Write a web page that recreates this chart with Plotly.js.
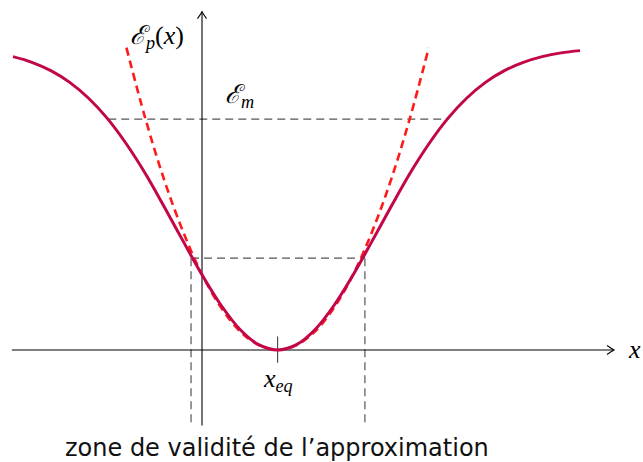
<!DOCTYPE html>
<html>
<head>
<meta charset="utf-8">
<script src="https://cdn.plot.ly/plotly-3.0.1.min.js"></script>
<style>
  html, body { margin: 0; padding: 0; background: #fff; }
  #plot { width: 643px; height: 462px; }
</style>
</head>
<body>
<div id="plot"></div>
<script>
// Potential energy curve E_p(x) (solid) and its harmonic approximation (dashed)
const curveX = [-5, -4.5, -4, -3.5, -3, -2.5, -2, -1.5, -1, -0.5, 0, 0.5, 1, 1.5, 2,
                2.5, 3, 3.5, 4, 4.5, 5, 5.5, 6, 6.5, 7, 7.5, 8, 8.5, 9, 9.5, 10];
const curveY = [7.76, 7.61, 7.39, 7.08, 6.66, 6.12, 5.45, 4.67, 3.79, 2.88, 1.99, 1.19, 0.55, 0.14, 0,
                0.14, 0.55, 1.19, 1.99, 2.88, 3.79, 4.67, 5.45, 6.12, 6.66, 7.08, 7.39, 7.61, 7.76, 7.86, 7.92];

const parabX = [-2, -1.5, -1, -0.5, 0, 0.5, 1, 1.5, 2, 2.5, 3, 3.5, 4, 4.5, 5, 5.5, 6];
const parabY = [8, 6.13, 4.5, 3.13, 2, 1.13, 0.5, 0.13, 0, 0.13, 0.5, 1.13, 2, 3.13, 4.5, 6.13, 8];

// Reference levels
const xEq = 2;            // equilibrium position
const eM = 6.11;          // mechanical energy level
const eM_xLeft = -2.48, eM_xRight = 6.52;
const zoneY = 2.43;       // upper level of the validity zone
const zoneLeft = -0.29, zoneRight = 4.31;

// Axes extent
const xAxisFrom = -5.03, xAxisTo = 10.9;
const yAxisFrom = -2.0, yAxisTo = 8.95;

// Plot window (1 unit = 37.8 px)
const xRange = [-5.344, 11.667];
const yRange = [-2.963, 9.259];
const PX = 1 / 37.8;

const dashGray = '#555555';
const axisColor = '#000000';

const traces = [
  {
    x: parabX, y: parabY, mode: 'lines', type: 'scatter',
    line: { color: '#ff1a1a', width: 2.6, dash: '8px,5px', shape: 'spline', smoothing: 1 },
    hoverinfo: 'skip'
  },
  {
    x: curveX, y: curveY, mode: 'lines', type: 'scatter',
    line: { color: '#c2064a', width: 3, shape: 'spline', smoothing: 1 },
    hoverinfo: 'skip'
  }
];

function seg(x0, y0, x1, y1, color, width, dash) {
  return { type: 'line', xref: 'x', yref: 'y', x0, y0, x1, y1,
           line: { color, width, dash: dash || 'solid' }, layer: 'below' };
}

// Open arrow tips for the axes
function tipRight(x, y) {
  const l = 7 * PX, w = 4.5 * PX;
  return { type: 'path', xref: 'x', yref: 'y',
    path: `M ${x - l} ${y + w} Q ${x - l * 0.35} ${y + w * 0.3} ${x} ${y} Q ${x - l * 0.35} ${y - w * 0.3} ${x - l} ${y - w}`,
    line: { color: axisColor, width: 1.1 } };
}
function tipUp(x, y) {
  const l = 7 * PX, w = 4.5 * PX;
  return { type: 'path', xref: 'x', yref: 'y',
    path: `M ${x - w} ${y - l} Q ${x - w * 0.3} ${y - l * 0.35} ${x} ${y} Q ${x + w * 0.3} ${y - l * 0.35} ${x + w} ${y - l}`,
    line: { color: axisColor, width: 1.1 } };
}

const shapes = [
  // dashed guides
  seg(eM_xLeft, eM, eM_xRight, eM, dashGray, 1.2, '8px,5px'),
  seg(zoneLeft, zoneY, zoneRight, zoneY, dashGray, 1.2, '8px,5px'),
  seg(zoneLeft, zoneY, zoneLeft, yAxisFrom, dashGray, 1.2, '8px,5px'),
  seg(zoneRight, zoneY, zoneRight, yAxisFrom, dashGray, 1.2, '8px,5px'),
  // axes
  seg(xAxisFrom, 0, xAxisTo, 0, axisColor, 1.1),
  seg(0, yAxisFrom, 0, yAxisTo, axisColor, 1.1),
  tipRight(xAxisTo, 0),
  tipUp(0, yAxisTo),
  // equilibrium tick
  seg(xEq, -0.34, xEq, 0.36, '#444444', 1.1)
];

const mathFont = { family: 'Liberation Serif', size: 26, color: '#000' };

const annotations = [
  { x: -1.18, y: 8.28, xref: 'x', yref: 'y', showarrow: false,
    text: '<i>ℰ</i><sub><i>p</i></sub>(<i>x</i>)', font: mathFont },
  { x: 1.0, y: 6.72, xref: 'x', yref: 'y', showarrow: false,
    text: '<i>ℰ</i><sub><i>m</i></sub>', font: mathFont },
  { x: xEq, y: -0.8, xref: 'x', yref: 'y', showarrow: false,
    text: '<i>x</i><sub><i>eq</i></sub>', font: mathFont },
  { x: 1, y: 0.02, xref: 'paper', yref: 'y', showarrow: false, xanchor: 'right',
    text: '<i>x</i>', font: mathFont },
  { x: 1.98, y: -2.6, xref: 'x', yref: 'y', showarrow: false,
    text: 'zone de validité de l’approximation',
    font: { family: 'DejaVu Sans', size: 24, color: '#111' } }
];

const layout = {
  width: 643, height: 462, autosize: false,
  margin: { l: 0, r: 0, t: 0, b: 0, pad: 0 },
  paper_bgcolor: '#ffffff', plot_bgcolor: '#ffffff',
  showlegend: false,
  xaxis: { range: xRange, visible: false, fixedrange: true },
  yaxis: { range: yRange, visible: false, fixedrange: true },
  shapes, annotations
};

Plotly.newPlot('plot', traces, layout, { displayModeBar: false, staticPlot: true });
</script>
</body>
</html>
